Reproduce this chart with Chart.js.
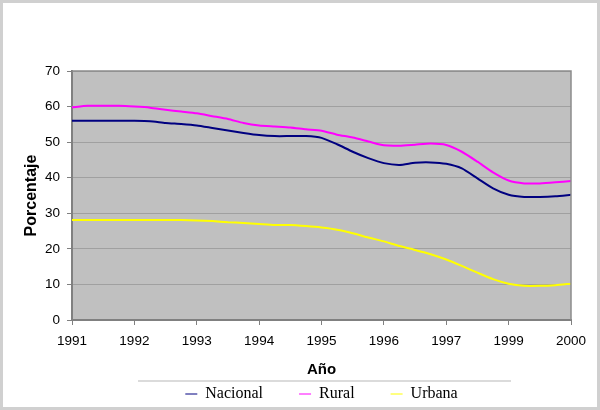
<!DOCTYPE html>
<html>
<head>
<meta charset="utf-8">
<script src="https://cdn.jsdelivr.net/npm/chart.js@4/dist/chart.umd.min.js"></script>
<style>
  html, body { margin: 0; padding: 0; background: #fff; }
  #wrap { width: 600px; height: 410px; }
</style>
</head>
<body>
<div id="wrap"><canvas id="chart" width="600" height="410"></canvas></div>
<script>
// tick labels of the x axis (the source skips 1998)
const yearLabels = ['1991', '1992', '1993', '1994', '1995', '1996', '1997', '1999', '2000'];

// positions along the axis, in quarter steps between labels
const xPos = [0, 0.25, 0.5, 0.75, 1, 1.25, 1.5, 1.75, 2, 2.25, 2.5, 2.75, 3, 3.25, 3.5, 3.75,
              4, 4.25, 4.5, 4.75, 5, 5.25, 5.5, 5.75, 6, 6.25, 6.5, 6.75, 7, 7.25, 7.5, 7.75, 8];

const nacional = [56.0, 56.0, 56.0, 56.0, 56.0, 55.9, 55.4, 55.1, 54.7, 54.0, 53.3, 52.6, 52.0, 51.7, 51.7, 51.7,
                  51.2, 49.4, 47.3, 45.5, 44.1, 43.6, 44.2, 44.3, 43.9, 42.6, 39.8, 37.0, 35.2, 34.6, 34.6, 34.8, 35.2];
const rural    = [59.8, 60.2, 60.2, 60.2, 60.0, 59.7, 59.1, 58.6, 58.1, 57.3, 56.5, 55.4, 54.7, 54.4, 54.1, 53.6,
                  53.2, 52.1, 51.3, 50.2, 49.1, 49.0, 49.3, 49.6, 49.2, 47.3, 44.5, 41.5, 39.2, 38.4, 38.4, 38.7, 39.1];
const urbana   = [28.1, 28.1, 28.1, 28.1, 28.1, 28.1, 28.1, 28.1, 28.0, 27.8, 27.5, 27.3, 27.0, 26.7, 26.7, 26.4,
                  26.0, 25.4, 24.4, 23.2, 22.1, 20.8, 19.7, 18.5, 17.0, 15.2, 13.3, 11.5, 10.2, 9.6, 9.6, 9.8, 10.2];

function toPoints(values) {
    return values.map((v, i) => ({ x: xPos[i], y: v }));
}

// grey plot area, frame and the rule above the legend
const decor = {
    id: 'decor',
    beforeDraw(chart) {
        const { ctx, chartArea: a } = chart;
        ctx.save();
        ctx.fillStyle = '#ffffff';
        ctx.fillRect(0, 0, chart.width, chart.height);
        ctx.fillStyle = '#c0c0c0';
        ctx.fillRect(a.left, a.top, a.right - a.left, a.bottom - a.top);
        ctx.restore();
    },
    afterDraw(chart) {
        const { ctx, chartArea: a } = chart;
        ctx.save();
        ctx.strokeStyle = '#8c8c8c';
        ctx.lineWidth = 1.5;
        ctx.beginPath();
        ctx.moveTo(a.left, a.top);
        ctx.lineTo(a.right, a.top);
        ctx.lineTo(a.right, a.bottom);
        ctx.stroke();

        ctx.strokeStyle = '#cfcfcf';
        ctx.lineWidth = 1.5;
        ctx.beginPath();
        ctx.moveTo(138, 381);
        ctx.lineTo(511, 381);
        ctx.stroke();

        ctx.strokeStyle = '#d0d0d0';
        ctx.lineWidth = 3;
        ctx.strokeRect(1.5, 1.5, chart.width - 3, chart.height - 3);
        ctx.restore();
    },
    afterLayout(chart) {
        // pull the legend row up under the rule
        if (chart.legend) chart.legend.top = 350;
    }
};

const ctx = document.getElementById('chart').getContext('2d');

const chart = new Chart(ctx, {
    type: 'line',
    data: {
        datasets: [
            { label: 'Nacional', data: toPoints(nacional), borderColor: '#000080', backgroundColor: '#000080' },
            { label: 'Rural', data: toPoints(rural), borderColor: '#ff00ff', backgroundColor: '#ff00ff' },
            { label: 'Urbana', data: toPoints(urbana), borderColor: '#ffff00', backgroundColor: '#ffff00' }
        ]
    },
    options: {
        responsive: false,
        animation: false,
        devicePixelRatio: 1,
        layout: { padding: { top: 71, right: 29, bottom: 5, left: 0 } },
        elements: {
            line: { borderWidth: 2, tension: 0.2 },
            point: { radius: 0 }
        },
        scales: {
            x: {
                type: 'linear',
                min: 0,
                max: 8,
                afterFit(scale) { scale.height = 60; },
                ticks: {
                    stepSize: 1,
                    autoSkip: false,
                    maxRotation: 0,
                    padding: 8,
                    color: '#000',
                    font: { family: 'Liberation Sans', size: 13.5 },
                    callback: (v) => yearLabels[v]
                },
                grid: { drawOnChartArea: false, tickLength: 5, tickColor: '#808080' },
                border: { color: '#808080', width: 2 },
                title: {
                    display: true,
                    text: 'Año',
                    color: '#000',
                    padding: { top: 0, bottom: 1 },
                    font: { family: 'Liberation Sans', size: 15, weight: 'bold' }
                }
            },
            y: {
                min: 0,
                max: 70,
                afterFit(scale) { scale.width = 72; },
                ticks: {
                    stepSize: 10,
                    padding: 7,
                    color: '#000',
                    font: { family: 'Liberation Sans', size: 13.5 }
                },
                grid: { color: '#a0a0a0', lineWidth: 1, tickLength: 5, tickColor: '#808080' },
                border: { color: '#808080', width: 2 },
                title: {
                    display: true,
                    text: 'Porcentaje',
                    color: '#000',
                    padding: { top: 22, bottom: 0 },
                    font: { family: 'Liberation Sans', size: 16, weight: 'bold' }
                }
            }
        },
        plugins: {
            tooltip: { enabled: false },
            legend: {
                position: 'bottom',
                fullSize: false,
                maxHeight: 25,
                labels: {
                    usePointStyle: true,
                    pointStyle: 'line',
                    pointStyleWidth: 12,
                    boxWidth: 12,
                    padding: 36,
                    color: '#000',
                    font: { family: 'Liberation Serif', size: 16 }
                }
            }
        }
    },
    plugins: [decor]
});
</script>
</body>
</html>
